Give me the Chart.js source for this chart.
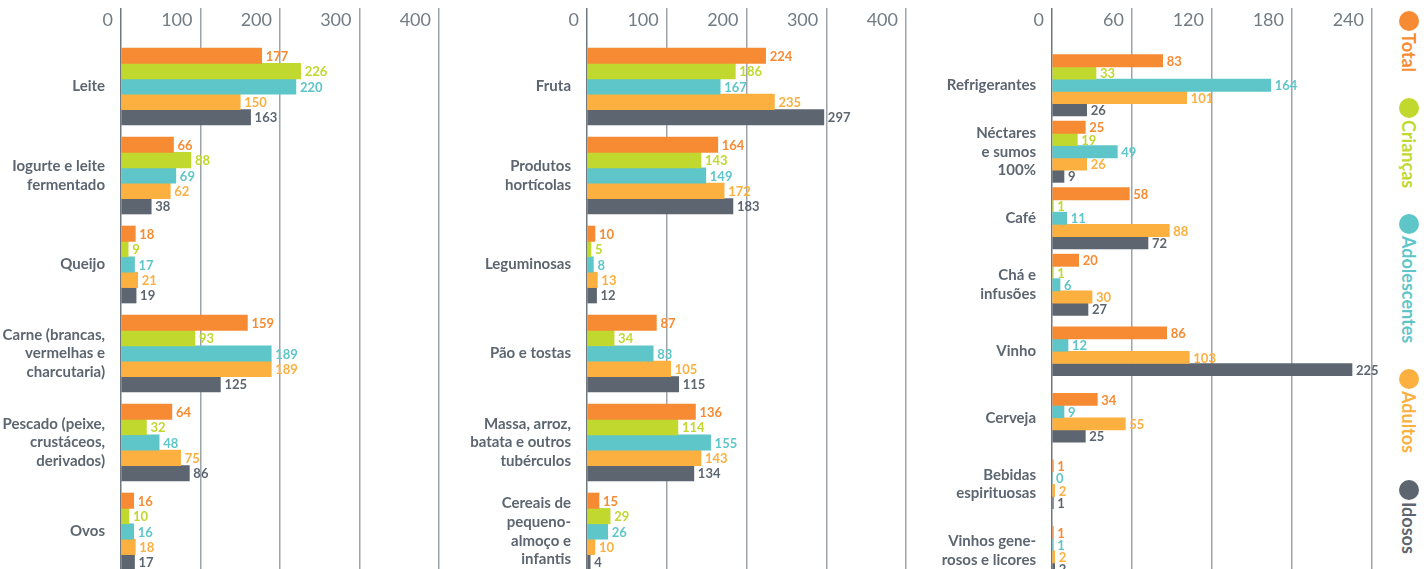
<!DOCTYPE html>
<html>
<head>
<meta charset="utf-8">
<script src="https://cdn.jsdelivr.net/npm/chart.js@4.4.1/dist/chart.umd.min.js"></script>
<style>
html,body{margin:0;padding:0;background:#fff;overflow:hidden;width:1426px;height:569px;}
.wrap{position:absolute;top:0;}
#w1{left:0;}
#w2{left:470px;}
#w3{left:940px;}
#legend{position:absolute;left:1398px;top:11px;display:flex;flex-direction:column;gap:26px;font-family:Lato,"Open Sans",sans-serif;font-weight:700;font-size:18px;}
.li{display:flex;flex-direction:column;align-items:center;width:22px;}
.dot{width:20px;height:20px;border-radius:50%;}
.lt{writing-mode:vertical-rl;margin-top:2px;line-height:22px;}
</style>
</head>
<body>
<div class="wrap" id="w1"><canvas id="c1" width="470" height="580"></canvas></div>
<div class="wrap" id="w2"><canvas id="c2" width="470" height="580"></canvas></div>
<div class="wrap" id="w3"><canvas id="c3" width="445" height="590"></canvas></div>
<div id="legend"></div>
<script>
// ---- data ----
const seriesNames = ['Total', 'Crianças', 'Adolescentes', 'Adultos', 'Idosos'];

const categories1 = [
  ['Leite'],
  ['Iogurte e leite', 'fermentado'],
  ['Queijo'],
  ['Carne (brancas,', 'vermelhas e', 'charcutaria)'],
  ['Pescado (peixe,', 'crustáceos,', 'derivados)'],
  ['Ovos']
];
const total1     = [177, 66, 18, 159, 64, 16];
const criancas1  = [226, 88, 9, 93, 32, 10];
const adolesc1   = [220, 69, 17, 189, 48, 16];
const adultos1   = [150, 62, 21, 189, 75, 18];
const idosos1    = [163, 38, 19, 125, 86, 17];

const categories2 = [
  ['Fruta'],
  ['Produtos', 'hortícolas'],
  ['Leguminosas'],
  ['Pão e tostas'],
  ['Massa, arroz,', 'batata e outros', 'tubérculos'],
  ['Cereais de', 'pequeno-', 'almoço e', 'infantis']
];
const total2     = [224, 164, 10, 87, 136, 15];
const criancas2  = [186, 143, 5, 34, 114, 29];
const adolesc2   = [167, 149, 8, 83, 155, 26];
const adultos2   = [235, 172, 13, 105, 143, 10];
const idosos2    = [297, 183, 12, 115, 134, 4];

const categories3 = [
  ['Refrigerantes'],
  ['Néctares', 'e sumos', '100%'],
  ['Café'],
  ['Chá e', 'infusões'],
  ['Vinho'],
  ['Cerveja'],
  ['Bebidas', 'espirituosas'],
  ['Vinhos gene-', 'rosos e licores']
];
const total3     = [83, 25, 58, 20, 86, 34, 1, 1];
const criancas3  = [33, 19, 1, 1, null, null, null, null];
const adolesc3   = [164, 49, 11, 6, 12, 9, 0, 1];
const adultos3   = [101, 26, 88, 30, 103, 55, 2, 2];
const idosos3    = [26, 9, 72, 27, 225, 25, 1, 2];

const xTicks12 = [0, 100, 200, 300, 400];
const xTicks3  = [0, 60, 120, 180, 240];

// ---- styles ----
const seriesColors = ['#f68b33', '#c1d82f', '#5ec6c8', '#fbb040', '#5d6670'];
const FONT = 'Lato, "Open Sans", sans-serif';

const valueLabels = {
  id: 'valueLabels',
  afterDatasetsDraw(chart) {
    const ctx = chart.ctx;
    ctx.save();
    ctx.font = 'bold 13px ' + FONT;
    ctx.textBaseline = 'middle';
    ctx.textAlign = 'left';
    chart.data.datasets.forEach((ds, i) => {
      const meta = chart.getDatasetMeta(i);
      meta.data.forEach((el, j) => {
        const v = ds.data[j];
        if (v === null || v === undefined) return;
        ctx.fillStyle = ds.backgroundColor;
        ctx.fillText(String(v), el.x + 4, el.y + 1);
      });
    });
    ctx.restore();
  }
};

function makeChart(id, cats, series, ticks, cfg) {
  const datasets = series.map((d, i) => ({
    label: seriesNames[i],
    data: d,
    backgroundColor: seriesColors[i],
    borderWidth: 0,
    barThickness: cfg.bar,
    skipNull: true
  }));
  return new Chart(document.getElementById(id), {
    type: 'bar',
    data: { labels: cats, datasets },
    options: {
      indexAxis: 'y',
      responsive: false,
      animation: false,
      events: [],
      layout: { padding: { top: 0, right: cfg.padRight, bottom: cfg.padBottom, left: 0 } },
      plugins: { legend: { display: false }, tooltip: { enabled: false } },
      scales: {
        x: {
          position: 'top',
          min: ticks[0],
          max: ticks[ticks.length - 1],
          afterBuildTicks: s => { s.ticks = ticks.map(v => ({ value: v })); },
          afterFit: s => { s.height = cfg.top; },
          border: { display: false },
          grid: {
            drawTicks: true,
            tickLength: cfg.top - 8,
            lineWidth: 1.5,
            color: c => (c.tick && c.tick.value === 0) ? '#6f777f' : '#9ea4aa'
          },
          ticks: {
            align: 'end',
            labelOffset: -8,
            padding: -23,
            color: '#737b83',
            font: { family: FONT, size: 18, weight: 'normal' }
          }
        },
        y: {
          afterFit: s => { s.width = cfg.left; s.paddingTop = 0; s.paddingBottom = 0; },
          border: { display: false },
          grid: { display: false },
          ticks: {
            padding: 8,
            color: '#5d6670',
            font: { family: FONT, size: 15, weight: 'bold', lineHeight: 1.25 }
          }
        }
      }
    },
    plugins: [valueLabels]
  });
}

makeChart('c1', categories1, [total1, criancas1, adolesc1, adultos1, idosos1], xTicks12,
  { top: 42, left: 121, padRight: 31, padBottom: 4, bar: 15.4 });
makeChart('c2', categories2, [total2, criancas2, adolesc2, adultos2, idosos2], xTicks12,
  { top: 42, left: 117, padRight: 34, padBottom: 4, bar: 15.4 });
makeChart('c3', categories3, [total3, criancas3, adolesc3, adultos3, idosos3], xTicks3,
  { top: 52, left: 112, padRight: 13, padBottom: 6, bar: 12.25 });

// ---- legend (HTML, vertical text) ----
const lg = document.getElementById('legend');
seriesNames.forEach((n, i) => {
  const item = document.createElement('div');
  item.className = 'li';
  const dot = document.createElement('div');
  dot.className = 'dot';
  dot.style.background = seriesColors[i];
  const t = document.createElement('div');
  t.className = 'lt';
  t.style.color = seriesColors[i];
  t.textContent = n;
  item.appendChild(dot);
  item.appendChild(t);
  lg.appendChild(item);
});
</script>
</body>
</html>
